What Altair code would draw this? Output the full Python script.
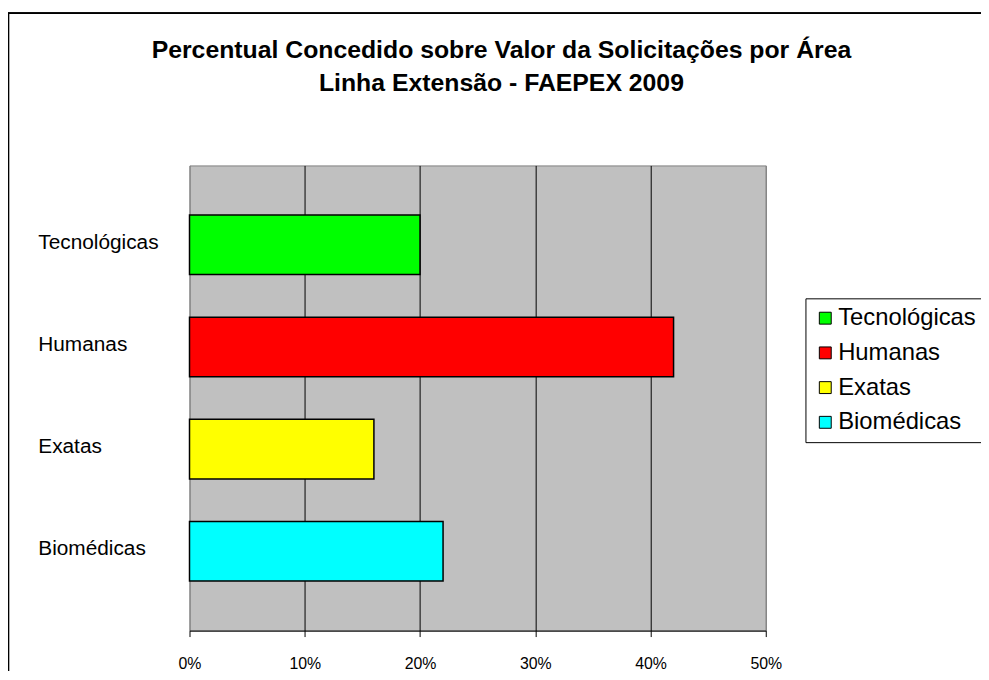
import altair as alt
import pandas as pd

categories = ["Tecnológicas", "Humanas", "Exatas", "Biomédicas"]
values = [0.20, 0.42, 0.16, 0.22]
colors = ["#00FF00", "#FF0000", "#FFFF00", "#00FFFF"]
x_ticks = [0, 0.1, 0.2, 0.3, 0.4, 0.5]
title_lines = ["Percentual Concedido sobre Valor da Solicitações por Área",
               "Linha Extensão - FAEPEX 2009"]

df = pd.DataFrame({"Area": categories, "Percentual": values})

FONT = "Liberation Sans"

bars = alt.Chart(df).mark_bar(stroke="black", strokeWidth=1.5, opacity=1).encode(
    y=alt.Y("Area:N", sort=categories,
            scale=alt.Scale(paddingInner=0.417, paddingOuter=0.485),
            axis=alt.Axis(title=None, domain=False, ticks=False, tickSize=0,
                          labelAlign="left", labelPadding=153, labelFontSize=21,
                          labelFont=FONT, labelColor="black", labelOffset=-2,
                          labelBaseline="middle", grid=False)),
    x=alt.X("Percentual:Q",
            scale=alt.Scale(domain=[0, 0.5], nice=False),
            axis=alt.Axis(title=None, values=x_ticks, format=".0%",
                          domainColor="black", domainWidth=1,
                          tickColor="black", tickSize=6, tickWidth=1,
                          labelFontSize=16, labelFont=FONT, labelColor="black",
                          labelPadding=19, labelFlush=False, grid=True,
                          gridColor={"condition": {"test": "datum.value == 0 || datum.value == 0.5",
                                                   "value": "#808080"},
                                     "value": "black"},
                          gridWidth=1, gridOpacity=1)),
    color=alt.Color("Area:N",
                    scale=alt.Scale(domain=categories, range=colors),
                    sort=categories,
                    legend=alt.Legend(title=None, orient="none", legendX=621, legendY=134,
                                      padding=8, strokeColor="black", fillColor="white",
                                      symbolType="square", symbolSize=144,
                                      symbolStrokeColor="black", symbolStrokeWidth=1,
                                      symbolOpacity=1,
                                      labelFontSize=24, labelFont=FONT, labelColor="black",
                                      labelOffset=1, rowPadding=11, labelLimit=400)),
)

border = alt.Chart(df).mark_rect(fill="transparent", stroke="black", strokeWidth=1.2).encode(
    x=alt.value(-182.5), x2=alt.value(1000), y=alt.value(-153.5), y2=alt.value(700)
)

chart = alt.layer(bars, border).properties(
    width=581, height=469,
    autosize=alt.AutoSizeParams(type="none"),
    padding={"left": 183, "top": 156, "right": 217, "bottom": 38},
    title=alt.TitleParams(text=title_lines, fontSize=25, font=FONT, fontWeight="bold",
                          color="black", anchor="middle", dx=24, offset=-84, lineHeight=33),
).configure_view(
    fill="#C0C0C0", stroke="#808080", strokeWidth=1
)

chart.save("out.html", embed_options={"renderer": "svg", "actions": False})
